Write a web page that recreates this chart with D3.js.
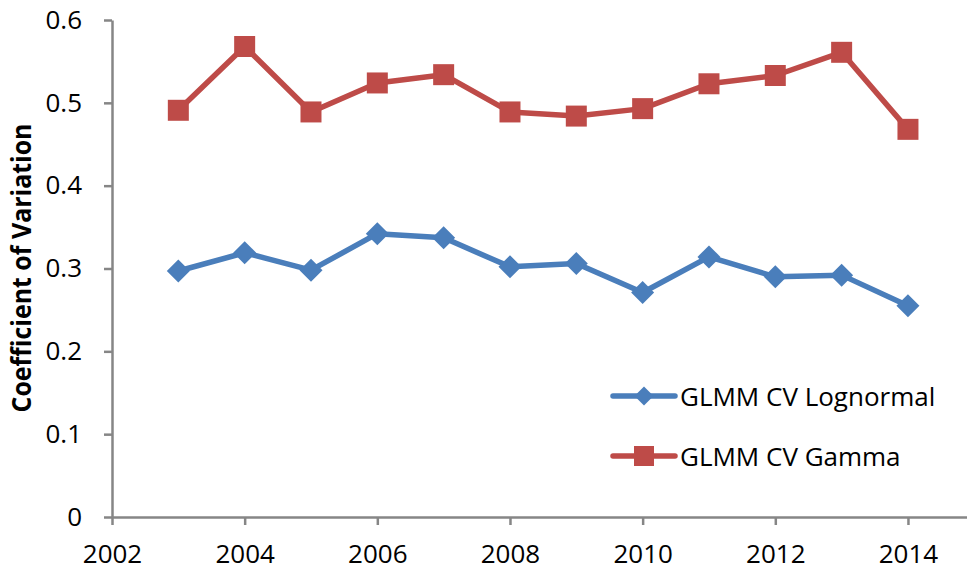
<!DOCTYPE html>
<html lang="en">
<head>
    <meta charset="UTF-8">
    <title>GLMM CV</title>
    <script src="https://d3js.org/d3.v7.min.js"></script>
    <style>
        body { margin: 0; background: #fff; }
        text { font-family: "Open Sans", "Noto Sans", sans-serif; fill: #000; }
        .axis path, .axis line { stroke: #868686; stroke-width: 2.5; }
    </style>
</head>
<body>
    <svg width="967" height="571" id="grafico"></svg>
    <script>
        // datos
        var years = [2003, 2004, 2005, 2006, 2007, 2008, 2009, 2010, 2011, 2012, 2013, 2014];
        var lognormal = [0.297, 0.319, 0.298, 0.342, 0.337, 0.302, 0.306, 0.271, 0.314, 0.290, 0.292, 0.255];
        var gamma = [0.491, 0.568, 0.489, 0.524, 0.534, 0.489, 0.484, 0.493, 0.523, 0.533, 0.561, 0.468];
        var xTicks = [2002, 2004, 2006, 2008, 2010, 2012, 2014];
        var yTicks = [0, 0.1, 0.2, 0.3, 0.4, 0.5, 0.6];
        var seriesNames = ["GLMM CV Lognormal", "GLMM CV Gamma"];

        var svg = d3.select("svg"),
            margin = { top: 20, left: 112, bottom: 54 },
            height = +svg.attr("height") - margin.bottom;

        // 2016 queda fuera del svg, el eje se corta en el borde
        var x = d3.scaleLinear().domain([2002, 2016]).range([margin.left, margin.left + 14 * 66.33]);
        var y = d3.scaleLinear().domain([0, 0.6]).range([517, margin.top]);

        var xAxis = d3.axisBottom(x).tickValues(xTicks).tickFormat(d3.format("d")).tickSize(8).tickSizeOuter(0).tickPadding(20);
        var yAxis = d3.axisLeft(y).tickValues(yTicks).tickFormat(function (d) { return d === 0 ? "0" : d3.format(".1f")(d); })
            .tickSize(8).tickSizeOuter(0).tickPadding(22);

        var gx = svg.append("g").attr("class", "axis")
            .attr("transform", "translate(0," + y(0) + ")")
            .call(xAxis);
        var gy = svg.append("g").attr("class", "axis")
            .attr("transform", "translate(" + margin.left + ",0)")
            .call(yAxis);
        svg.selectAll(".axis text").attr("font-size", 26).attr("font-family", "Open Sans").attr("fill", "#000");

        svg.append("text")
            .attr("transform", "translate(31," + 268 + ") rotate(-90)")
            .attr("text-anchor", "middle")
            .attr("font-size", 26)
            .attr("font-weight", "bold")
            .attr("textLength", 289)
            .attr("lengthAdjust", "spacingAndGlyphs")
            .text("Coefficient of Variation");

        var series = [
            { name: seriesNames[0], values: lognormal, color: "#4A7EBB", symbol: d3.symbolDiamond },
            { name: seriesNames[1], values: gamma, color: "#BE4B48", symbol: d3.symbolSquare }
        ];

        var line = d3.line()
            .x(function (d, i) { return x(years[i]); })
            .y(function (d) { return y(d); });

        // cuadrado de 22px, rombo de 22px de diagonal
        function marker(s, sz) {
            if (s.symbol === d3.symbolSquare) return d3.symbol().type(d3.symbolSquare).size(sz * sz)();
            var h = sz / 2;
            return "M0," + (-h) + "L" + h + ",0L0," + h + "L" + (-h) + ",0Z";
        }

        series.forEach(function (s) {
            svg.append("path")
                .datum(s.values)
                .attr("fill", "none")
                .attr("stroke", s.color)
                .attr("stroke-width", 5.5)
                .attr("stroke-linejoin", "round")
                .attr("d", line);

            svg.selectAll(null)
                .data(s.values)
                .enter().append("path")
                .attr("transform", function (d, i) { return "translate(" + x(years[i]) + "," + y(d) + ")"; })
                .attr("d", marker(s, s.symbol === d3.symbolSquare ? 21 : 23))
                .attr("fill", s.color);
        });

        // leyenda
        var legend = svg.append("g").attr("transform", "translate(613,396)");
        series.forEach(function (s, i) {
            var g = legend.append("g").attr("transform", "translate(0," + (i * 60) + ")");
            g.append("line").attr("x1", 0).attr("x2", 62).attr("y1", 0).attr("y2", 0)
                .attr("stroke", s.color).attr("stroke-width", 5.5).attr("stroke-linecap", "round");
            g.append("path").attr("transform", "translate(31,0)")
                .attr("d", marker(s, s.symbol === d3.symbolSquare ? 20 : 19))
                .attr("fill", s.color);
            g.append("text").attr("x", 67).attr("y", 10)
                .attr("font-size", 26)
                .text(s.name);
        });
    </script>
</body>
</html>
